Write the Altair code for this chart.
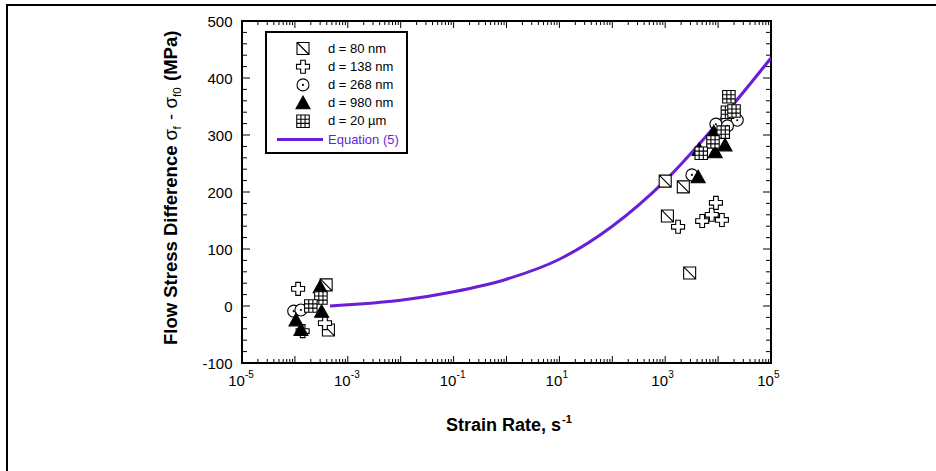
import altair as alt
import pandas as pd

# ---------------- data ----------------
rate_80 = [3.9e-4, 4.3e-4, 1.0e3, 2.2e3, 1.1e3, 2.9e3]
stress_80 = [37, -42, 219, 209, 158, 58]

rate_138 = [1.15e-4, 3.7e-4, 1.4e-4, 1.75e3, 5.0e3, 7.6e3, 9.1e3, 1.18e4]
stress_138 = [30, -30, -44, 139, 149, 160, 181, 151]

rate_268 = [9.5e-5, 1.3e-4, 3.2e3, 9.1e3, 2.3e4, 1.5e4]
stress_268 = [-9, -7, 230, 319, 326, 316]

rate_980 = [3.0e-4, 1.05e-4, 1.3e-4, 3.2e-4, 4.2e3, 4.4e3, 8.8e3, 1.35e4, 8.3e3]
stress_980 = [33, -25, -42, -10, 226, 274, 270, 282, 305]

rate_20um = [3.1e-4, 2.0e-4, 1.6e4, 1.5e4, 2.0e4, 1.25e4, 8.0e3, 4.8e3]
stress_20um = [14, 0, 367, 340, 342, 305, 288, 268]

eq_rate = [4.6e-4, 1e-3, 1e-2, 1e-1, 1, 10, 100, 1e3, 1e4, 1e5]
eq_stress = [0, 2, 10, 25, 47, 82, 140, 220, 322, 435]

legend_labels = ["d = 80 nm", "d = 138 nm", "d = 268 nm", "d = 980 nm", "d = 20 \u00b5m", "Equation (5)"]

x_label_values = [1e-5, 1e-3, 1e-1, 1e1, 1e3, 1e5]
x_label_exponents = ["-5", "-3", "-1", "1", "3", "5"]
x_major_ticks = [10.0 ** e for e in range(-5, 6)]
x_minor_ticks = [k * 10.0 ** e for e in range(-5, 5) for k in range(2, 10)]
y_label_values = [-100, 0, 100, 200, 300, 400, 500]
y_minor_ticks = [v for v in range(-100, 501, 20) if v % 100 != 0]

# ---------------- layout ----------------
W, H = 529, 342
PL, PT = 242, 21
PURPLE = "#6a1fd6"
FONT = "Liberation Sans"

xs = alt.Scale(type="log", domain=[1e-5, 1e5], nice=False)
ys = alt.Scale(domain=[-100, 500], nice=False, zero=False)

x_axis = alt.Axis(values=x_label_values, labelExpr="'10'", ticks=False, domain=False,
                  grid=False, title=None, labelFont=FONT, labelFontSize=15,
                  labelColor="black", labelPadding=10, labelOffset=-6,
                  labelOverlap=False, labelFlush=False, labelBound=False)
y_axis = alt.Axis(values=y_label_values, labelExpr="'' + datum.value", ticks=False,
                  domain=False, grid=False, title=None, labelFont=FONT, labelFontSize=15,
                  labelColor="black", labelPadding=10, labelOverlap=False,
                  labelFlush=False, labelBound=False)

X = lambda: alt.X("x:Q", scale=xs, axis=x_axis)
Y = lambda: alt.Y("y:Q", scale=ys, axis=y_axis)

SQ_DIAG = "M-1,-1H1V1H-1Z M-1,-1L1,1"
CROSS = "M-0.36,-1H0.36V-0.36H1V0.36H0.36V1H-0.36V0.36H-1V-0.36H-0.36Z"
CIRC_DOT = "M1,0A1,1 0 1,1 -1,0A1,1 0 1,1 1,0Z M0.08,0A0.08,0.08 0 1,1 -0.08,0A0.08,0.08 0 1,1 0.08,0Z"
TRI = "M0,-1L1,0.8L-1,0.8Z"
GRID = "M-1,-1H1V1H-1Z M-0.333,-1V1 M0.333,-1V1 M-1,-0.333H1 M-1,0.333H1"

series = [
    (rate_268, stress_268, CIRC_DOT, 144, "white"),
    (rate_80, stress_80, SQ_DIAG, 144, "white"),
    (rate_138, stress_138, CROSS, 169, "white"),
    (rate_980, stress_980, TRI, 196, "black"),
    (rate_20um, stress_20um, GRID, 156, "white"),
]

layers = []

# outer frame (left and top edges visible)
frame = pd.DataFrame({"x": [1.0], "y": [0.0]})
layers.append(alt.Chart(frame).mark_rule(color="black", strokeWidth=2).encode(
    x=alt.value(7 - PL), y=alt.value(5 - PT), y2=alt.value(480)))
layers.append(alt.Chart(frame).mark_rule(color="black", strokeWidth=2).encode(
    y=alt.value(5 - PT), x=alt.value(6 - PL), x2=alt.value(720)))

# equation curve
eq_df = pd.DataFrame({"x": eq_rate, "y": eq_stress})
layers.append(alt.Chart(eq_df).mark_line(color=PURPLE, strokeWidth=3, interpolate="monotone",
                                         clip=True).encode(x=X(), y=Y()))

# data points
for r, s, shp, sz, fill in series:
    df = pd.DataFrame({"x": r, "y": s})
    layers.append(alt.Chart(df).mark_point(shape=shp, size=sz, filled=True, fill=fill,
                                           stroke="black", strokeWidth=1.1, opacity=1).encode(x=X(), y=Y()))

# inward ticks
def xticks(vals, ln):
    d = pd.DataFrame({"x": vals})
    b = alt.Chart(d).mark_rule(color="black", strokeWidth=1).encode(
        x=X(), y=alt.value(H), y2=alt.value(H - ln))
    t = alt.Chart(d).mark_rule(color="black", strokeWidth=1).encode(
        x=X(), y=alt.value(0), y2=alt.value(ln))
    return [b, t]

def yticks(vals, ln):
    d = pd.DataFrame({"y": vals})
    l = alt.Chart(d).mark_rule(color="black", strokeWidth=1).encode(
        y=Y(), x=alt.value(0), x2=alt.value(ln))
    r = alt.Chart(d).mark_rule(color="black", strokeWidth=1).encode(
        y=Y(), x=alt.value(W), x2=alt.value(W - ln))
    return [l, r]

layers += xticks(x_major_ticks, 7) + xticks(x_minor_ticks, 4)
layers += yticks(y_label_values, 8) + yticks(y_minor_ticks, 5)

# superscript exponents of x tick labels
exp_df = pd.DataFrame({"x": x_label_values, "t": x_label_exponents})
layers.append(alt.Chart(exp_df).mark_text(align="left", baseline="top", font=FONT, fontSize=10,
                                          color="black", dx=3).encode(
    x=X(), y=alt.value(H + 7), text="t:N"))

# x-axis title with superscript
layers.append(alt.Chart(frame).mark_text(align="right", baseline="alphabetic", font=FONT,
                                         fontSize=18, fontWeight="bold", color="black").encode(
    x=alt.value(561 - PL), y=alt.value(431 - PT), text=alt.value("Strain Rate, s")))
layers.append(alt.Chart(frame).mark_text(align="left", baseline="alphabetic", font=FONT,
                                         fontSize=11, fontWeight="bold", color="black").encode(
    x=alt.value(562 - PL), y=alt.value(423 - PT), text=alt.value("-1")))

# y-axis title (rotated) with subscripts; greek letters and subscripts in regular weight
yt_pieces = [
    ("Flow Stress Difference", 345, 177, 18.5, "bold"),
    ("\u03c3", 140.5, 177, 18.5, "normal"),
    ("f", 129.5, 181, 11.5, "normal"),
    ("-", 120, 177, 18.5, "normal"),
    ("\u03c3", 108.5, 177, 18.5, "normal"),
    ("f0", 97, 181, 11.5, "normal"),
    ("(MPa)", 81, 177, 18.5, "bold"),
]
for txt, ypos, xpos, fs, fw in yt_pieces:
    layers.append(alt.Chart(frame).mark_text(align="left", baseline="alphabetic", angle=270,
                                             font=FONT, fontSize=fs, fontWeight=fw,
                                             color="black").encode(
        x=alt.value(xpos - PL), y=alt.value(ypos - PT), text=alt.value(txt)))

# manual legend
layers.append(alt.Chart(frame).mark_rect(fill="white", stroke="black", strokeWidth=2).encode(
    x=alt.value(266 - PL), x2=alt.value(407 - PL), y=alt.value(32 - PT), y2=alt.value(153 - PT)))
row0, dy = 48.5, 18.2
leg_syms = [(SQ_DIAG, 144, "white"), (CROSS, 169, "white"), (CIRC_DOT, 144, "white"),
            (TRI, 196, "black"), (GRID, 156, "white")]
for i, (shp, sz, fill) in enumerate(leg_syms):
    yy = row0 + i * dy - PT
    layers.append(alt.Chart(frame).mark_point(shape=shp, size=sz, filled=True, fill=fill,
                                              stroke="black", strokeWidth=1.1, opacity=1).encode(
        x=alt.value(303 - PL), y=alt.value(yy)))
for i, lab in enumerate(legend_labels):
    yy = row0 + i * dy - PT
    col = PURPLE if i == 5 else "black"
    layers.append(alt.Chart(frame).mark_text(align="left", baseline="middle", font=FONT,
                                             fontSize=13, color=col).encode(
        x=alt.value(328 - PL), y=alt.value(yy), text=alt.value(lab)))
yy = row0 + 5 * dy - PT
layers.append(alt.Chart(frame).mark_rule(color=PURPLE, strokeWidth=3).encode(
    x=alt.value(277 - PL), x2=alt.value(323 - PL), y=alt.value(yy)))

chart = alt.layer(*layers).properties(
    width=W, height=H,
    autosize=alt.AutoSizeParams(type="none"),
    padding={"left": PL, "top": PT, "right": 936 - PL - W, "bottom": 471 - PT - H},
    background="white",
).configure_view(stroke="black", strokeWidth=2)

chart.save("out.html", embed_options={"renderer": "svg", "actions": False})
